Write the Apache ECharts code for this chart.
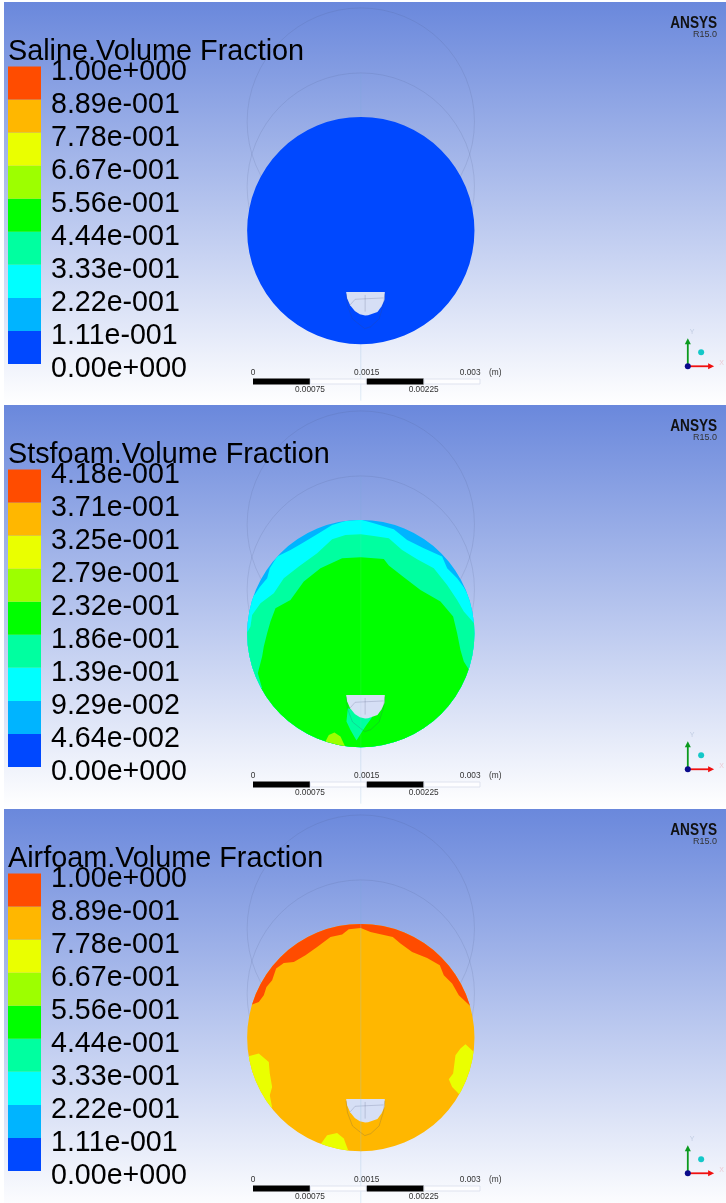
<!DOCTYPE html>
<html>
<head>
<meta charset="utf-8">
<title>Volume fraction contours</title>
<script src="https://cdn.jsdelivr.net/npm/echarts@6/dist/echarts.min.js"></script>
<style>
  html, body { margin: 0; padding: 0; background: #fff; }
  #chart { width: 726px; height: 1203px; }
</style>
</head>
<body>
<div id="chart"></div>
<script>
// contour band colours, bottom of the colour bar first
const bandColors = ['#0048ff', '#00b4ff', '#00ffff', '#00ffa0', '#00ff00', '#9dff00', '#eaff00', '#ffb700', '#ff4c00']

const panelTitles = ['Saline.Volume Fraction', 'Stsfoam.Volume Fraction', 'Airfoam.Volume Fraction']
const salineTicks = ['1.00e+000', '8.89e-001', '7.78e-001', '6.67e-001', '5.56e-001', '4.44e-001', '3.33e-001', '2.22e-001', '1.11e-001', '0.00e+000']
const stsfoamTicks = ['4.18e-001', '3.71e-001', '3.25e-001', '2.79e-001', '2.32e-001', '1.86e-001', '1.39e-001', '9.29e-002', '4.64e-002', '0.00e+000']
const airfoamTicks = salineTicks

const scaleTopLabels = ['0', '0.0015', '0.003']
const scaleBottomLabels = ['0.00075', '0.00225']
const scaleSegments = [0.00075, 0.00075, 0.00075, 0.00075]

// geometry is in units of 1/3 px, origin at the centre of the disc, y down
const discRadius = 341
const meshCircleCentres = [[0, -327], [0, -132]]
const meshCentreLine = [[0, -472], [0, 510]]
const holeOutline = [[-44, 184], [72, 184], [71, 208], [62, 228], [50, 244], [22, 254], [13, 255], [-3, 251], [-18, 241], [-32, 224], [-41, 204]]
const uLine = [[-44, 190], [-40, 225], [-25, 265], [0, 285], [12, 294], [30, 288], [55, 265], [68, 222], [72, 190]]
const innerLineA = [[-32, 223], [-17, 206], [68, 202]]
const innerLineB = [[13, 193], [13, 243]]

const triadOrigin = [981, 407]
const triadYTip = [981, 323]
const triadXTip = [1060, 407]
const triadBall = [1021, 365]
const logoAnchor = [1069, -646]

// contour regions, top of the stack last, clipped to the disc when drawn
const salineRegions = [
  { band: 0, points: [[-500, -500], [500, -500], [500, 500], [-500, 500]] },
]
const stsfoamRegions = [
  { band: 1, points: [[-500, -500], [500, -500], [500, 500], [-500, 500]] },
  { band: 2, points: [[-319, -116], [-303, -140], [-281, -166], [-273, -196], [-251, -231], [-211, -251], [-176, -271], [-126, -301], [-86, -326], [-46, -338], [0, -342], [39, -331], [99, -313], [139, -281], [189, -256], [244, -231], [259, -196], [289, -166], [309, -139], [324, -112], [500, -112], [500, 500], [-500, 500], [-500, -116]] },
  { band: 3, points: [[-339, -6], [-331, -21], [-326, -56], [-301, -91], [-261, -121], [-231, -166], [-186, -201], [-131, -241], [-86, -283], [-46, -296], [0, -298], [39, -293], [84, -286], [124, -251], [169, -223], [219, -196], [259, -146], [289, -101], [309, -66], [342, -29], [500, -29], [500, 500], [-500, 500], [-500, -6]] },
  { band: 4, points: [[-296, 164], [-309, 119], [-296, 69], [-291, 39], [-281, -1], [-271, -36], [-256, -76], [-211, -101], [-171, -156], [-121, -196], [-56, -226], [0, -229], [69, -224], [84, -204], [129, -169], [179, -131], [239, -96], [277, -51], [289, -1], [299, 49], [309, 84], [325, 109], [500, 109], [500, 500], [-500, 500], [-500, 164]] },
  { band: 3, points: [[-39, 224], [-43, 264], [-31, 289], [-13, 321], [4, 294], [17, 274], [34, 251], [9, 239]] },
  { band: 5, points: [[-106, 324], [-96, 304], [-79, 297], [-61, 309], [-46, 341], [-41, 400], [-111, 400]] },
]
const airfoamRegions = [
  { band: 7, points: [[-500, -500], [500, -500], [500, 500], [-500, 500]] },
  { band: 8, points: [[-326, -99], [-306, -107], [-291, -127], [-283, -152], [-266, -172], [-254, -207], [-231, -224], [-201, -227], [-166, -247], [-131, -272], [-91, -302], [-56, -309], [-36, -325], [0, -329], [29, -317], [96, -302], [119, -282], [154, -257], [199, -239], [237, -217], [249, -187], [274, -162], [294, -127], [329, -94], [500, -94], [500, -500], [-500, -500], [-500, -99]] },
  { band: 6, points: [[-334, 55], [-306, 48], [-276, 73], [-273, 108], [-266, 148], [-273, 173], [-266, 210], [-500, 223], [-500, 55]] },
  { band: 6, points: [[314, 20], [337, 41], [500, 41], [500, 173], [296, 171], [274, 148], [264, 125], [277, 108], [284, 53], [299, 33]] },
  { band: 6, points: [[-119, 318], [-101, 293], [-71, 286], [-51, 303], [-38, 338], [-31, 400], [-131, 400]] },
]
const panelRegions = [salineRegions, stsfoamRegions, airfoamRegions]
const panelTicks = [salineTicks, stsfoamTicks, airfoamTicks]
// how strongly the centre line shows through the surface in each panel
const overlayOpacity = [0, 0.12, 0.3]

const panelTops = [2, 405, 809]
// the last panel is cut off by the bottom of the picture
const panelHeights = [403, 403, 394]
const fullPanelHeight = 403
const panelLeft = 4
const panelWidth = 722
const discCx = 360.8
const discCy = 228.6
const titleFont = '"Liberation Sans", Arial, sans-serif'
const meshColor = 'rgba(70, 85, 130, 0.14)'
const surfaceLineColor = 'rgba(60, 70, 110, 0.2)'

const chart = echarts.init(document.getElementById('chart'))

const grids = []
const xAxes = []
const yAxes = []
const series = []
const titles = []

const polyLine = (api, pts, style) => ({
  type: 'polyline',
  shape: { points: pts.map((p) => api.coord(p)) },
  style: { fill: null, lineWidth: 1, ...style },
  silent: true,
})

panelTops.forEach((top, p) => {
  const height = panelHeights[p]

  // main view: disc, mesh lines and the triad
  let xIdx = xAxes.length
  let yIdx = yAxes.length
  let gridIdx = grids.length
  grids.push({
    left: panelLeft,
    top,
    width: panelWidth,
    height,
    show: true,
    borderWidth: 0,
    backgroundColor: {
      type: 'linear', x: 0, y: 0, x2: 0, y2: fullPanelHeight / height,
      colorStops: [
        { offset: 0, color: '#6a88dc' },
        { offset: 1, color: '#ffffff' },
      ],
    },
  })
  xAxes.push({ gridIndex: gridIdx, type: 'value', show: false, min: (panelLeft - discCx) * 3, max: (panelLeft + panelWidth - discCx) * 3 })
  yAxes.push({ gridIndex: gridIdx, type: 'value', show: false, inverse: true, min: -discCy * 3, max: (height - discCy) * 3 })

  const base = { type: 'custom', xAxisIndex: xIdx, yAxisIndex: yIdx, silent: true, animation: false, coordinateSystem: 'cartesian2d' }

  series.push({
    ...base,
    name: 'mesh',
    z: 2,
    data: meshCircleCentres,
    renderItem: (params, api) => {
      const c = api.coord([api.value(0), api.value(1)])
      const r = api.size([discRadius, 0])[0]
      return { type: 'circle', shape: { cx: c[0], cy: c[1], r }, style: { fill: null, stroke: meshColor, lineWidth: 1 } }
    },
  })
  series.push({
    ...base,
    name: 'mesh line',
    z: 2,
    data: [meshCentreLine[0]],
    renderItem: (params, api) => polyLine(api, meshCentreLine, { stroke: 'rgba(120, 170, 215, 0.22)' }),
  })
  series.push({
    ...base,
    name: 'contours',
    z: 3,
    data: panelRegions[p].map((r, i) => [i, i]),
    renderItem: (params, api) => {
      const region = panelRegions[p][params.dataIndex]
      const c = api.coord([0, 0])
      const r = api.size([discRadius, 0])[0]
      return {
        type: 'polygon',
        shape: { points: region.points.map((pt) => api.coord(pt)) },
        style: { fill: bandColors[region.band] },
        clipPath: { type: 'circle', shape: { cx: c[0], cy: c[1], r } },
      }
    },
  })
  series.push({
    ...base,
    name: 'hole',
    z: 4,
    data: [[0, 0]],
    renderItem: (params, api) => ({
      type: 'group',
      children: [
        { type: 'polygon', shape: { points: holeOutline.map((pt) => api.coord(pt)) }, style: { fill: '#d6dff5' } },
        polyLine(api, innerLineA, { stroke: surfaceLineColor }),
        polyLine(api, innerLineB, { stroke: surfaceLineColor }),
        polyLine(api, uLine, { stroke: surfaceLineColor }),
        polyLine(api, [[0, -341], [0, 341]], { stroke: `rgba(150, 200, 225, ${overlayOpacity[p]})` }),
      ],
    }),
  })
  series.push({
    ...base,
    name: 'triad',
    z: 5,
    data: [[0, 0]],
    renderItem: (params, api) => {
      const o = api.coord(triadOrigin)
      const yTip = api.coord(triadYTip)
      const xTip = api.coord(triadXTip)
      const ball = api.coord(triadBall)
      const logo = api.coord(logoAnchor)
      return {
        type: 'group',
        children: [
          { type: 'line', shape: { x1: o[0], y1: o[1], x2: yTip[0], y2: yTip[1] + 5 }, style: { stroke: '#0b9a1e', lineWidth: 1.8 } },
          { type: 'polygon', shape: { points: [[yTip[0], yTip[1]], [yTip[0] - 3, yTip[1] + 6], [yTip[0] + 3, yTip[1] + 6]] }, style: { fill: '#0b9a1e' } },
          { type: 'line', shape: { x1: o[0], y1: o[1], x2: xTip[0] - 5, y2: xTip[1] }, style: { stroke: '#f01010', lineWidth: 1.8 } },
          { type: 'polygon', shape: { points: [[xTip[0], xTip[1]], [xTip[0] - 6, xTip[1] - 3], [xTip[0] - 6, xTip[1] + 3]] }, style: { fill: '#f01010' } },
          { type: 'circle', shape: { cx: o[0], cy: o[1], r: 3 }, style: { fill: '#0a0a8c' } },
          { type: 'circle', shape: { cx: ball[0], cy: ball[1], r: 3 }, style: { fill: '#14c8c8' } },
          { type: 'text', x: yTip[0] + 2, y: yTip[1] - 10, style: { text: 'Y', fill: 'rgba(150, 170, 200, 0.45)', font: `7px ${titleFont}` } },
          { type: 'text', x: xTip[0] + 5, y: xTip[1] - 7, style: { text: 'X', fill: 'rgba(230, 150, 160, 0.45)', font: `7px ${titleFont}` } },
          // the logo face is narrower than any installed bold, so squeeze it
          { type: 'text', x: logo[0], y: logo[1], scaleX: 0.82, style: { text: 'ANSYS', fill: '#111', align: 'right', verticalAlign: 'top', font: `bold 16.6px ${titleFont}` } },
        ],
      }
    },
  })

  // colour bar
  xIdx = xAxes.length
  yIdx = yAxes.length
  gridIdx = grids.length
  const ticks = panelTicks[p]
  grids.push({ left: 8, top: top + 64.5, width: 33, height: 297.5 })
  xAxes.push({ gridIndex: gridIdx, type: 'category', show: false, data: ['bar'] })
  yAxes.push({
    gridIndex: gridIdx,
    type: 'value',
    min: 0,
    max: 9,
    interval: 1,
    position: 'right',
    splitLine: { show: false },
    axisLine: { show: false },
    axisTick: { show: false },
    axisLabel: {
      margin: 10,
      fontSize: 28.6,
      color: '#000',
      fontFamily: titleFont,
      verticalAlign: 'top',
      lineHeight: 11,
      hideOverlap: false,
      formatter: (v) => ticks[9 - v],
    },
  })
  bandColors.forEach((color) => {
    series.push({
      type: 'bar',
      xAxisIndex: xIdx,
      yAxisIndex: yIdx,
      stack: `legend${p}`,
      barWidth: '100%',
      silent: true,
      animation: false,
      z: 3,
      itemStyle: { color },
      data: [1],
    })
  })

  // scale bar
  xIdx = xAxes.length
  yIdx = yAxes.length
  gridIdx = grids.length
  grids.push({ left: 253, top: top + 376.5, width: 227.5, height: 6 })
  xAxes.push({
    gridIndex: gridIdx,
    type: 'value',
    position: 'top',
    min: 0,
    max: 0.003,
    interval: 0.0015,
    splitLine: { show: false },
    axisLine: { show: false },
    axisTick: { show: false },
    axisLabel: {
      margin: 2,
      fontSize: 8.3,
      color: '#333',
      fontFamily: titleFont,
      alignMaxLabel: 'right',
      formatter: (v) => scaleTopLabels[Math.round(v / 0.0015)],
    },
  })
  xAxes.push({
    gridIndex: gridIdx,
    type: 'value',
    position: 'bottom',
    min: 0,
    max: 0.003,
    interval: 0.00075,
    splitLine: { show: false },
    axisLine: { show: false },
    axisTick: { show: false },
    axisLabel: {
      margin: 1,
      fontSize: 8.3,
      color: '#333',
      fontFamily: titleFont,
      formatter: (v) => {
        const n = Math.round(v / 0.00075)
        return n % 2 ? scaleBottomLabels[(n - 1) / 2] : ''
      },
    },
  })
  yAxes.push({ gridIndex: gridIdx, type: 'category', show: false, data: ['scale'] })
  scaleSegments.forEach((w, i) => {
    series.push({
      type: 'bar',
      xAxisIndex: xIdx,
      yAxisIndex: yIdx,
      stack: `scale${p}`,
      barWidth: '100%',
      silent: true,
      animation: false,
      z: 3,
      itemStyle: i % 2 ? { color: 'rgba(255,255,255,0.75)', borderColor: '#dfe3ef', borderWidth: 1 } : { color: '#000' },
      data: [w],
    })
  })

  titles.push({ text: panelTitles[p], left: 8, top: top + 36, padding: 0, textStyle: { fontSize: 28.8, fontWeight: 'normal', color: '#000', fontFamily: titleFont } })
  titles.push({ text: 'R15.0', right: 9, top: top + 28, padding: 0, textStyle: { fontSize: 9, fontWeight: 'normal', color: '#333', fontFamily: titleFont } })
  titles.push({ text: '(m)', left: 489, top: top + 367, padding: 0, textStyle: { fontSize: 8.3, fontWeight: 'normal', color: '#333', fontFamily: titleFont } })
})

chart.setOption({
  animation: false,
  title: titles,
  grid: grids,
  xAxis: xAxes,
  yAxis: yAxes,
  series,
})

window.addEventListener('resize', () => chart.resize())
</script>
</body>
</html>
